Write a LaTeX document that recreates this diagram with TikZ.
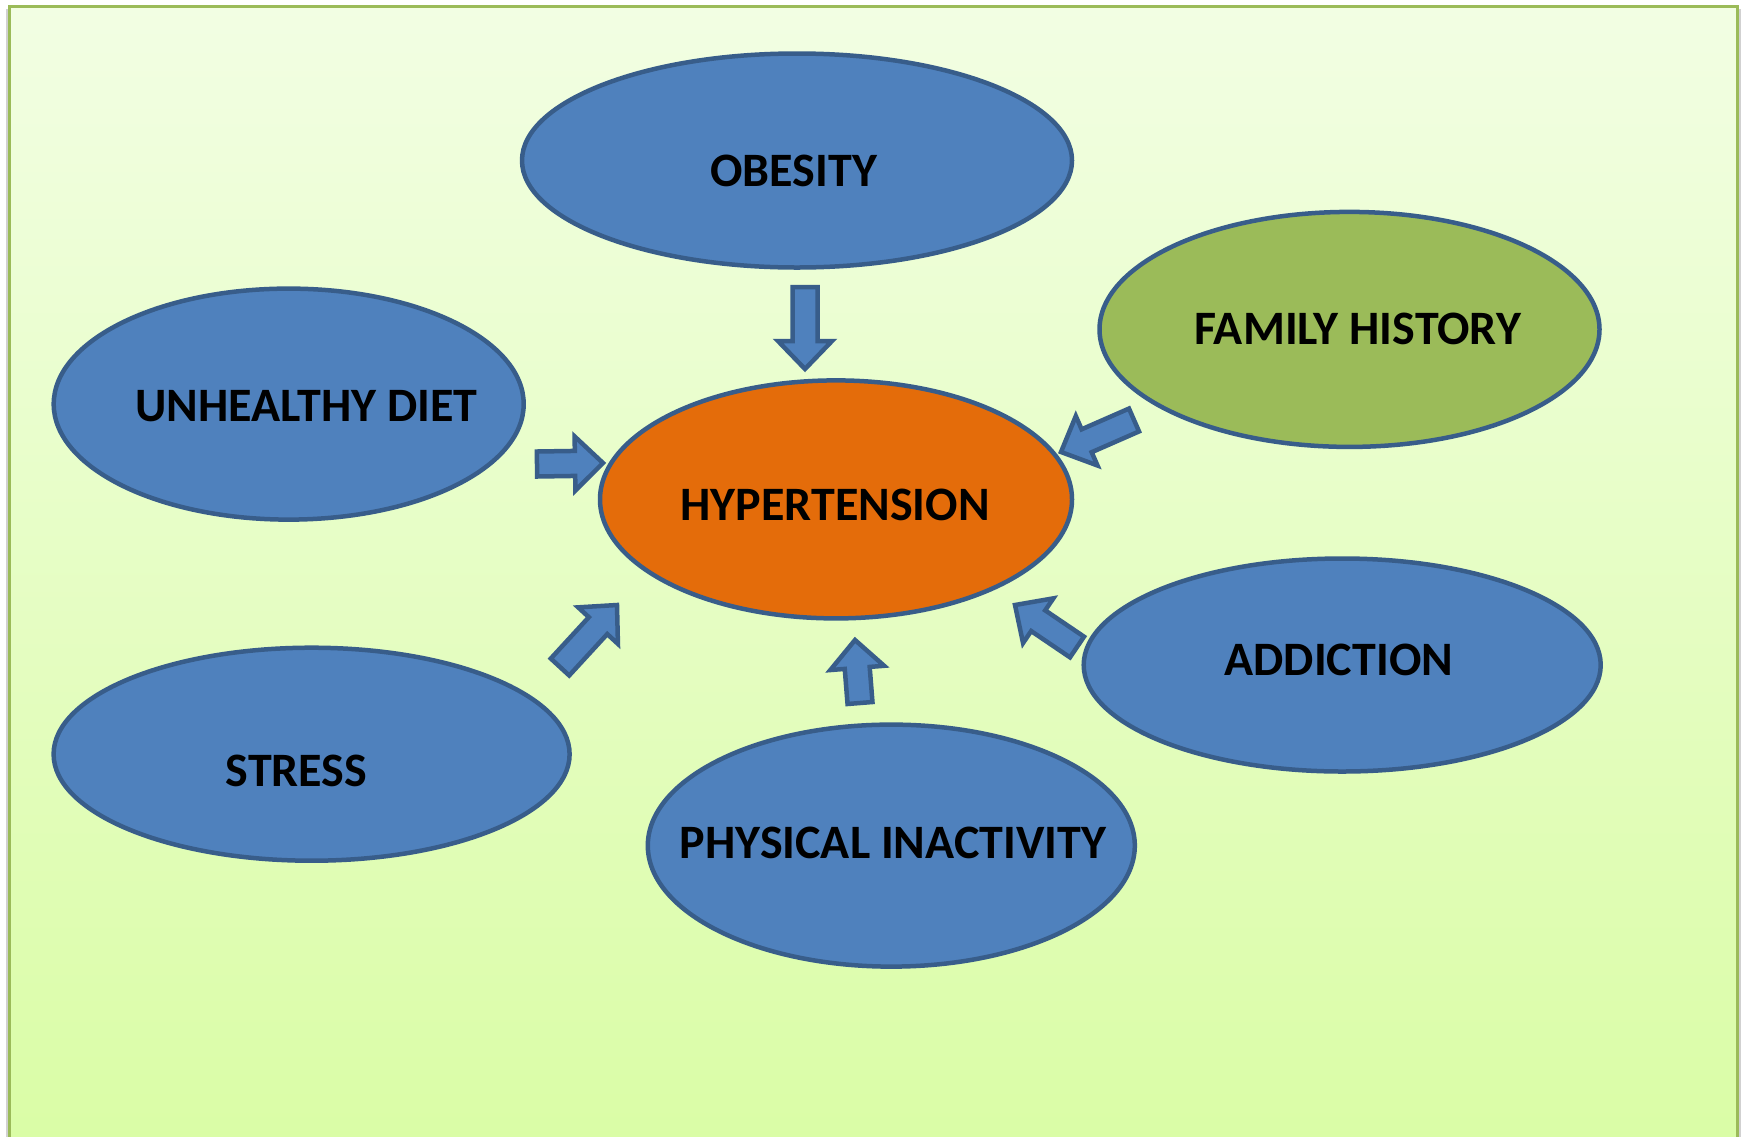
\documentclass[tikz,border=0pt]{standalone}
\usepackage{fontspec}
\setmainfont{Carlito}
\usetikzlibrary{shapes.geometric,calc}
\definecolor{bluefill}{HTML}{4F81BD}
\definecolor{blueline}{HTML}{385D8A}
\definecolor{orangefill}{HTML}{E46C0A}
\definecolor{greenfill}{HTML}{9BBB59}
\definecolor{frameline}{HTML}{9BBB59}
\definecolor{bgtop}{HTML}{F2FEE3}
\definecolor{bgbot}{HTML}{DAFDA6}
\tikzset{
  blob/.style={ellipse, draw=blueline, line width=4.5pt, inner sep=0pt},
  bluebl/.style={blob, fill=bluefill},
  label/.style={font=\bfseries\fontsize{48}{50}\selectfont, text=black, text height=31pt, text depth=0pt, inner sep=0pt},
  blockarr/.style={fill=bluefill, draw=blueline, line width=4.5pt, line join=miter}
}
\newcommand\blockarrow[2]{%
  \coordinate (bT) at (#1);
  \coordinate (bP) at (#2);
  \coordinate (bN) at ($(bP)!28pt!(bT)$);
  \draw[blockarr] ($(bT)!12.5pt!90:(bP)$) -- ($(bN)!12.5pt!-90:(bT)$) -- ($(bN)!27pt!-90:(bT)$) -- (bP)
     -- ($(bN)!27pt!90:(bT)$) -- ($(bN)!12.5pt!90:(bT)$) -- ($(bT)!12.5pt!-90:(bP)$) -- cycle;
}
\begin{document}
\begin{tikzpicture}[x=1pt,y=-1pt]
\useasboundingbox (0,0) rectangle (1748,1136);
% frame
\fill[black!18] (6,9) rectangle (1741,1140);
\shade[top color=bgtop, bottom color=bgbot] (9,6) rectangle (1737,1140);
\draw[frameline, line width=3pt] (9,1140) -- (9,6) -- (1737,6) -- (1737,1140);
% ellipses
\node[bluebl, minimum width=550pt, minimum height=214pt] (obesity) at (797,160.5) {};
\node[blob, fill=greenfill, minimum width=500pt, minimum height=235pt] (family) at (1349.5,329.4) {};
\node[bluebl, minimum width=470pt, minimum height=231pt] (diet) at (288.7,404.1) {};
\node[blob, fill=orangefill, minimum width=472pt, minimum height=238pt] (hyper) at (836,499.4) {};
\node[bluebl, minimum width=517pt, minimum height=213pt] (addict) at (1342.2,665) {};
\node[bluebl, minimum width=516pt, minimum height=213pt] (stress) at (311.6,754.2) {};
\node[bluebl, minimum width=487pt, minimum height=242pt] (phys) at (891.3,845.6) {};
% labels
\node[label] (tobesity) at (793.7,170.6) {OBESITY};
\node[label] (tfamily) at (1357.8,328.9) {FAMILY HISTORY};
\node[label] (tdiet) at (306.6,405.8) {UNHEALTHY DIET};
\node[label] (thyper) at (835,505) {HYPERTENSION};
\node[label] (taddict) at (1338.9,660) {ADDICTION};
\node[label] (tstress) at (296.5,771.4) {STRESS};
\node[label] (tphys) at (893,842.8) {PHYSICAL INACTIVITY};
% block arrows
\coordinate (a1t) at (805,287);  \coordinate (a1p) at (805,369);
\coordinate (a2t) at (537,464);  \coordinate (a2p) at (603,463);
\coordinate (a3t) at (1134,420); \coordinate (a3p) at (1061,452);
\coordinate (a4t) at (1077,647); \coordinate (a4p) at (1015,605);
\coordinate (a5t) at (860,703);  \coordinate (a5p) at (855,640);
\coordinate (a6t) at (560,667);  \coordinate (a6p) at (617,605);
\blockarrow{a1t}{a1p}
\blockarrow{a2t}{a2p}
\blockarrow{a3t}{a3p}
\blockarrow{a4t}{a4p}
\blockarrow{a5t}{a5p}
\blockarrow{a6t}{a6p}
\end{tikzpicture}
\end{document}
